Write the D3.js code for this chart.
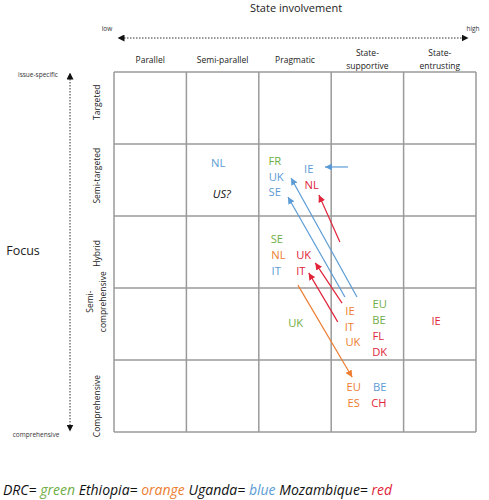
<!DOCTYPE html>
<html><head><meta charset="utf-8">
<script src="https://cdn.jsdelivr.net/npm/d3@7"></script>
<style>
body{margin:0;background:#fff;}
svg text{font-family:"Open Sans","Noto Sans",sans-serif;}
</style></head>
<body><svg id="c" width="489" height="500"></svg>
<script>
// ---- data ----
const columns = [["Parallel"],["Semi-parallel"],["Pragmatic"],["State-","supportive"],["State-","entrusting"]];
const rows = [["Targeted"],["Semi-targeted"],["Hybrid"],["Semi-","comprehensive"],["Comprehensive"]];
const rowLabelShift = [-0.08,-0.06,0.02,-0.31,0.14]; // visual nudges in row units
const colorsByCountry = {DRC:"#70ad47", Ethiopia:"#ed7d31", Uganda:"#5b9bd5", Mozambique:"#e0243a", none:"#111"};
// labels: text, country, x (column units), y (row units)
const labels = [
  ["NL","Uganda",1.44,1.26],["US?","none",1.49,1.69],
  ["FR","DRC",2.22,1.24],["UK","Uganda",2.24,1.46],["SE","Uganda",2.22,1.67],
  ["IE","Uganda",2.69,1.35],["NL","Mozambique",2.73,1.57],
  ["SE","DRC",2.25,2.32],["NL","Ethiopia",2.27,2.54],["IT","Uganda",2.24,2.76],
  ["UK","Mozambique",2.62,2.54],["IT","Mozambique",2.58,2.76],
  ["UK","DRC",2.51,3.49],
  ["IE","Ethiopia",3.26,3.32],["IT","Ethiopia",3.25,3.54],["UK","Ethiopia",3.30,3.75],
  ["EU","DRC",3.67,3.22],["BE","DRC",3.66,3.44],["FL","Mozambique",3.65,3.67],["DK","Mozambique",3.67,3.89],
  ["IE","Mozambique",4.45,3.46],
  ["EU","Ethiopia",3.31,4.375],["ES","Ethiopia",3.31,4.60],["BE","Uganda",3.67,4.375],["CH","Mozambique",3.66,4.60]
];
// arrows: country, x0, y0 (tail), x1, y1 (head)
const arrows = [
  ["Uganda",3.232,1.319,2.914,1.319],
  ["Uganda",3.356,3.125,2.445,1.472],
  ["Uganda",3.19,3.125,2.403,1.736],
  ["Mozambique",3.12,2.36,2.83,1.71],
  ["Mozambique",3.15,3.21,2.78,2.65],
  ["Mozambique",3.09,3.47,2.69,2.79],
  ["Ethiopia",2.54,2.96,3.29,4.24]
];
const legend = [["DRC= ","green","DRC"],["Ethiopia= ","orange","Ethiopia"],["Uganda= ","blue","Uganda"],["Mozambique= ","red","Mozambique"]];

// ---- drawing ----
const svg = d3.select("#c");
const x = d3.scaleLinear().domain([0,5]).range([114,476]);
const y = d3.scaleLinear().domain([0,5]).range([72,432]);
const gridColor = "#9a9a9a";

const defs = svg.append("defs");
Object.entries(colorsByCountry).forEach(([k,c])=>{
  defs.append("marker").attr("id","m"+k).attr("viewBox","0 0 10 10").attr("refX",10).attr("refY",5)
    .attr("markerWidth",7).attr("markerHeight",7).attr("markerUnits","userSpaceOnUse").attr("orient","auto")
    .append("path").attr("d","M0,0L10,5L0,10z").attr("fill",c);
});
defs.append("marker").attr("id","tri").attr("viewBox","0 0 10 10").attr("refX",5).attr("refY",5)
  .attr("markerWidth",7).attr("markerHeight",7).attr("markerUnits","userSpaceOnUse").attr("orient","auto-start-reverse")
  .append("path").attr("d","M0,0L10,5L0,10z").attr("fill","#111");

// grid
const g = svg.append("g");
d3.range(6).forEach(i=>{
  g.append("line").attr("x1",x(i)).attr("x2",x(i)).attr("y1",y(0)).attr("y2",y(5)).attr("stroke",gridColor).attr("stroke-width",1.5);
  g.append("line").attr("y1",y(i)).attr("y2",y(i)).attr("x1",x(0)).attr("x2",x(5)).attr("stroke",gridColor).attr("stroke-width",1.5);
});

// column headers
columns.forEach((c,i)=>{
  const t = svg.append("text").attr("x",x(i+0.5)).attr("text-anchor","middle").attr("font-size",8.5).attr("fill","#222");
  if(c.length===1){ t.attr("y",63).text(c[0]); }
  else c.forEach((s,j)=>t.append("tspan").attr("x",x(i+0.5)).attr("y",56+j*13).text(s));
});

// row labels
rows.forEach((r,i)=>{
  const cy = y(i+0.5+rowLabelShift[i]);
  const t = svg.append("text").attr("transform",`translate(${97},${cy}) rotate(-90)`).attr("text-anchor","middle").attr("font-size",8.5).attr("fill","#222");
  if(r.length===1){ t.attr("y",3).text(r[0]); }
  else r.forEach((s,j)=>t.append("tspan").attr("x",0).attr("y",-4+j*13).text(s));
});

// axes annotations
svg.append("text").attr("x",296).attr("y",12).attr("text-anchor","middle").attr("font-size",11).attr("fill","#222").text("State involvement");
svg.append("text").attr("x",107).attr("y",31).attr("text-anchor","middle").attr("font-size",6.5).attr("fill","#333").text("low");
svg.append("text").attr("x",473).attr("y",31).attr("text-anchor","middle").attr("font-size",6.5).attr("fill","#333").text("high");
svg.append("line").attr("x1",121).attr("x2",465).attr("y1",38).attr("y2",38).attr("stroke","#333").attr("stroke-width",1).attr("stroke-dasharray","1.5,1.5")
  .attr("marker-start","url(#tri)").attr("marker-end","url(#tri)");
svg.append("line").attr("x1",70).attr("x2",70).attr("y1",76).attr("y2",428).attr("stroke","#333").attr("stroke-width",1).attr("stroke-dasharray","1.5,1.5")
  .attr("marker-start","url(#tri)").attr("marker-end","url(#tri)");
svg.append("text").attr("x",38).attr("y",77).attr("text-anchor","middle").attr("font-size",6.5).attr("fill","#333").text("issue-specific");
svg.append("text").attr("x",36).attr("y",437).attr("text-anchor","middle").attr("font-size",6.5).attr("fill","#333").text("comprehensive");
svg.append("text").attr("x",23).attr("y",255).attr("text-anchor","middle").attr("font-size",12.5).attr("fill","#222").text("Focus");

// arrows
svg.append("g").selectAll("line").data(arrows).join("line")
  .attr("x1",d=>x(d[1])).attr("y1",d=>y(d[2])).attr("x2",d=>x(d[3])).attr("y2",d=>y(d[4]))
  .attr("stroke",d=>colorsByCountry[d[0]]).attr("stroke-width",1.2)
  .attr("marker-end",d=>`url(#m${d[0]})`);

// labels
svg.append("g").selectAll("text").data(labels).join("text")
  .attr("x",d=>x(d[2])).attr("y",d=>y(d[3])).attr("dy","0.36em").attr("text-anchor","middle")
  .attr("font-size",11.2).attr("fill",d=>colorsByCountry[d[1]])
  .attr("font-style",d=>d[1]==="none"?"italic":"normal").text(d=>d[0]);

// legend
const lt = svg.append("text").attr("x",3).attr("y",495).attr("font-size",14).attr("font-style","italic").attr("fill","#111");
legend.forEach((l,i)=>{
  lt.append("tspan").text((i?" ":"")+l[0]);
  lt.append("tspan").attr("fill",colorsByCountry[l[2]]).text(l[1]);
});
</script></body></html>
